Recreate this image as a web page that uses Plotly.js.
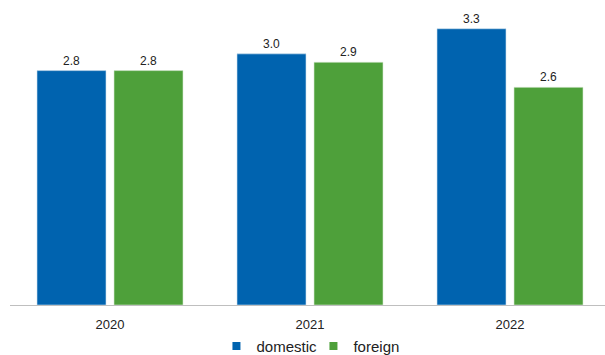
<!DOCTYPE html>
<html>
<head>
<meta charset="utf-8">
<script src="https://cdn.plot.ly/plotly-3.0.1.min.js"></script>
<style>html,body{margin:0;padding:0;background:#fff;}#chart{width:605px;height:355px;}</style>
</head>
<body>
<div id="chart"></div>
<script>
const years = ['2020', '2021', '2022'];
const domestic = [2.8, 3.0, 3.3];
const foreign = [2.8, 2.9, 2.6];
const seriesNames = ['domestic', 'foreign'];
const colors = ['#0063AF', '#4EA03A'];

const family = 'Liberation Sans, Arial, sans-serif';
const labelFont = {family: family, size: 12, color: '#222222'};

function barTrace(name, values, color, edge) {
  return {type: 'bar', name: name, x: years, y: values, showlegend: false,
    marker: {color: color, line: {color: edge, width: 0.6}},
    texttemplate: '%{y:.1f}', textposition: 'outside', cliponaxis: false,
    textfont: labelFont, hoverinfo: 'none'};
}
function legendTrace(name, color) {
  return {type: 'scatter', mode: 'markers', name: name, x: [null], y: [null],
    marker: {symbol: 'square', size: 8, color: color}, hoverinfo: 'none'};
}

const traces = [
  barTrace(seriesNames[0], domestic, colors[0], '#cfe0ef'),
  barTrace(seriesNames[1], foreign, colors[1], '#d8ead3'),
  legendTrace(seriesNames[0], colors[0]),
  legendTrace(seriesNames[1], colors[1])
];

const layout = {
  width: 605, height: 355,
  margin: {l: 10, r: 0, t: 12, b: 50, pad: 0},
  paper_bgcolor: '#ffffff', plot_bgcolor: '#ffffff',
  font: labelFont,
  barmode: 'group', bargap: 0.23, bargroupgap: 0.104,
  showlegend: true,
  legend: {orientation: 'h', x: 0.51, xanchor: 'center', yref: 'container', y: 0.025, yanchor: 'middle',
           font: {family: family, size: 15, color: '#222222'}, itemwidth: 30, tracegroupgap: 0,
           itemsizing: 'trace', entrywidth: 52, entrywidthmode: 'pixels'},
  xaxis: {type: 'category', range: [-0.5, 2.475], showline: true, linecolor: '#bfbfbf', linewidth: 1,
          ticks: '', showgrid: false, zeroline: false, ticklabelstandoff: 7,
          tickfont: {family: family, size: 13, color: '#222222'}, fixedrange: true},
  yaxis: {range: [0, 3.5], visible: false, showgrid: false, zeroline: false, fixedrange: true}
};

Plotly.newPlot('chart', traces, layout, {displayModeBar: false, staticPlot: true});
</script>
</body>
</html>
